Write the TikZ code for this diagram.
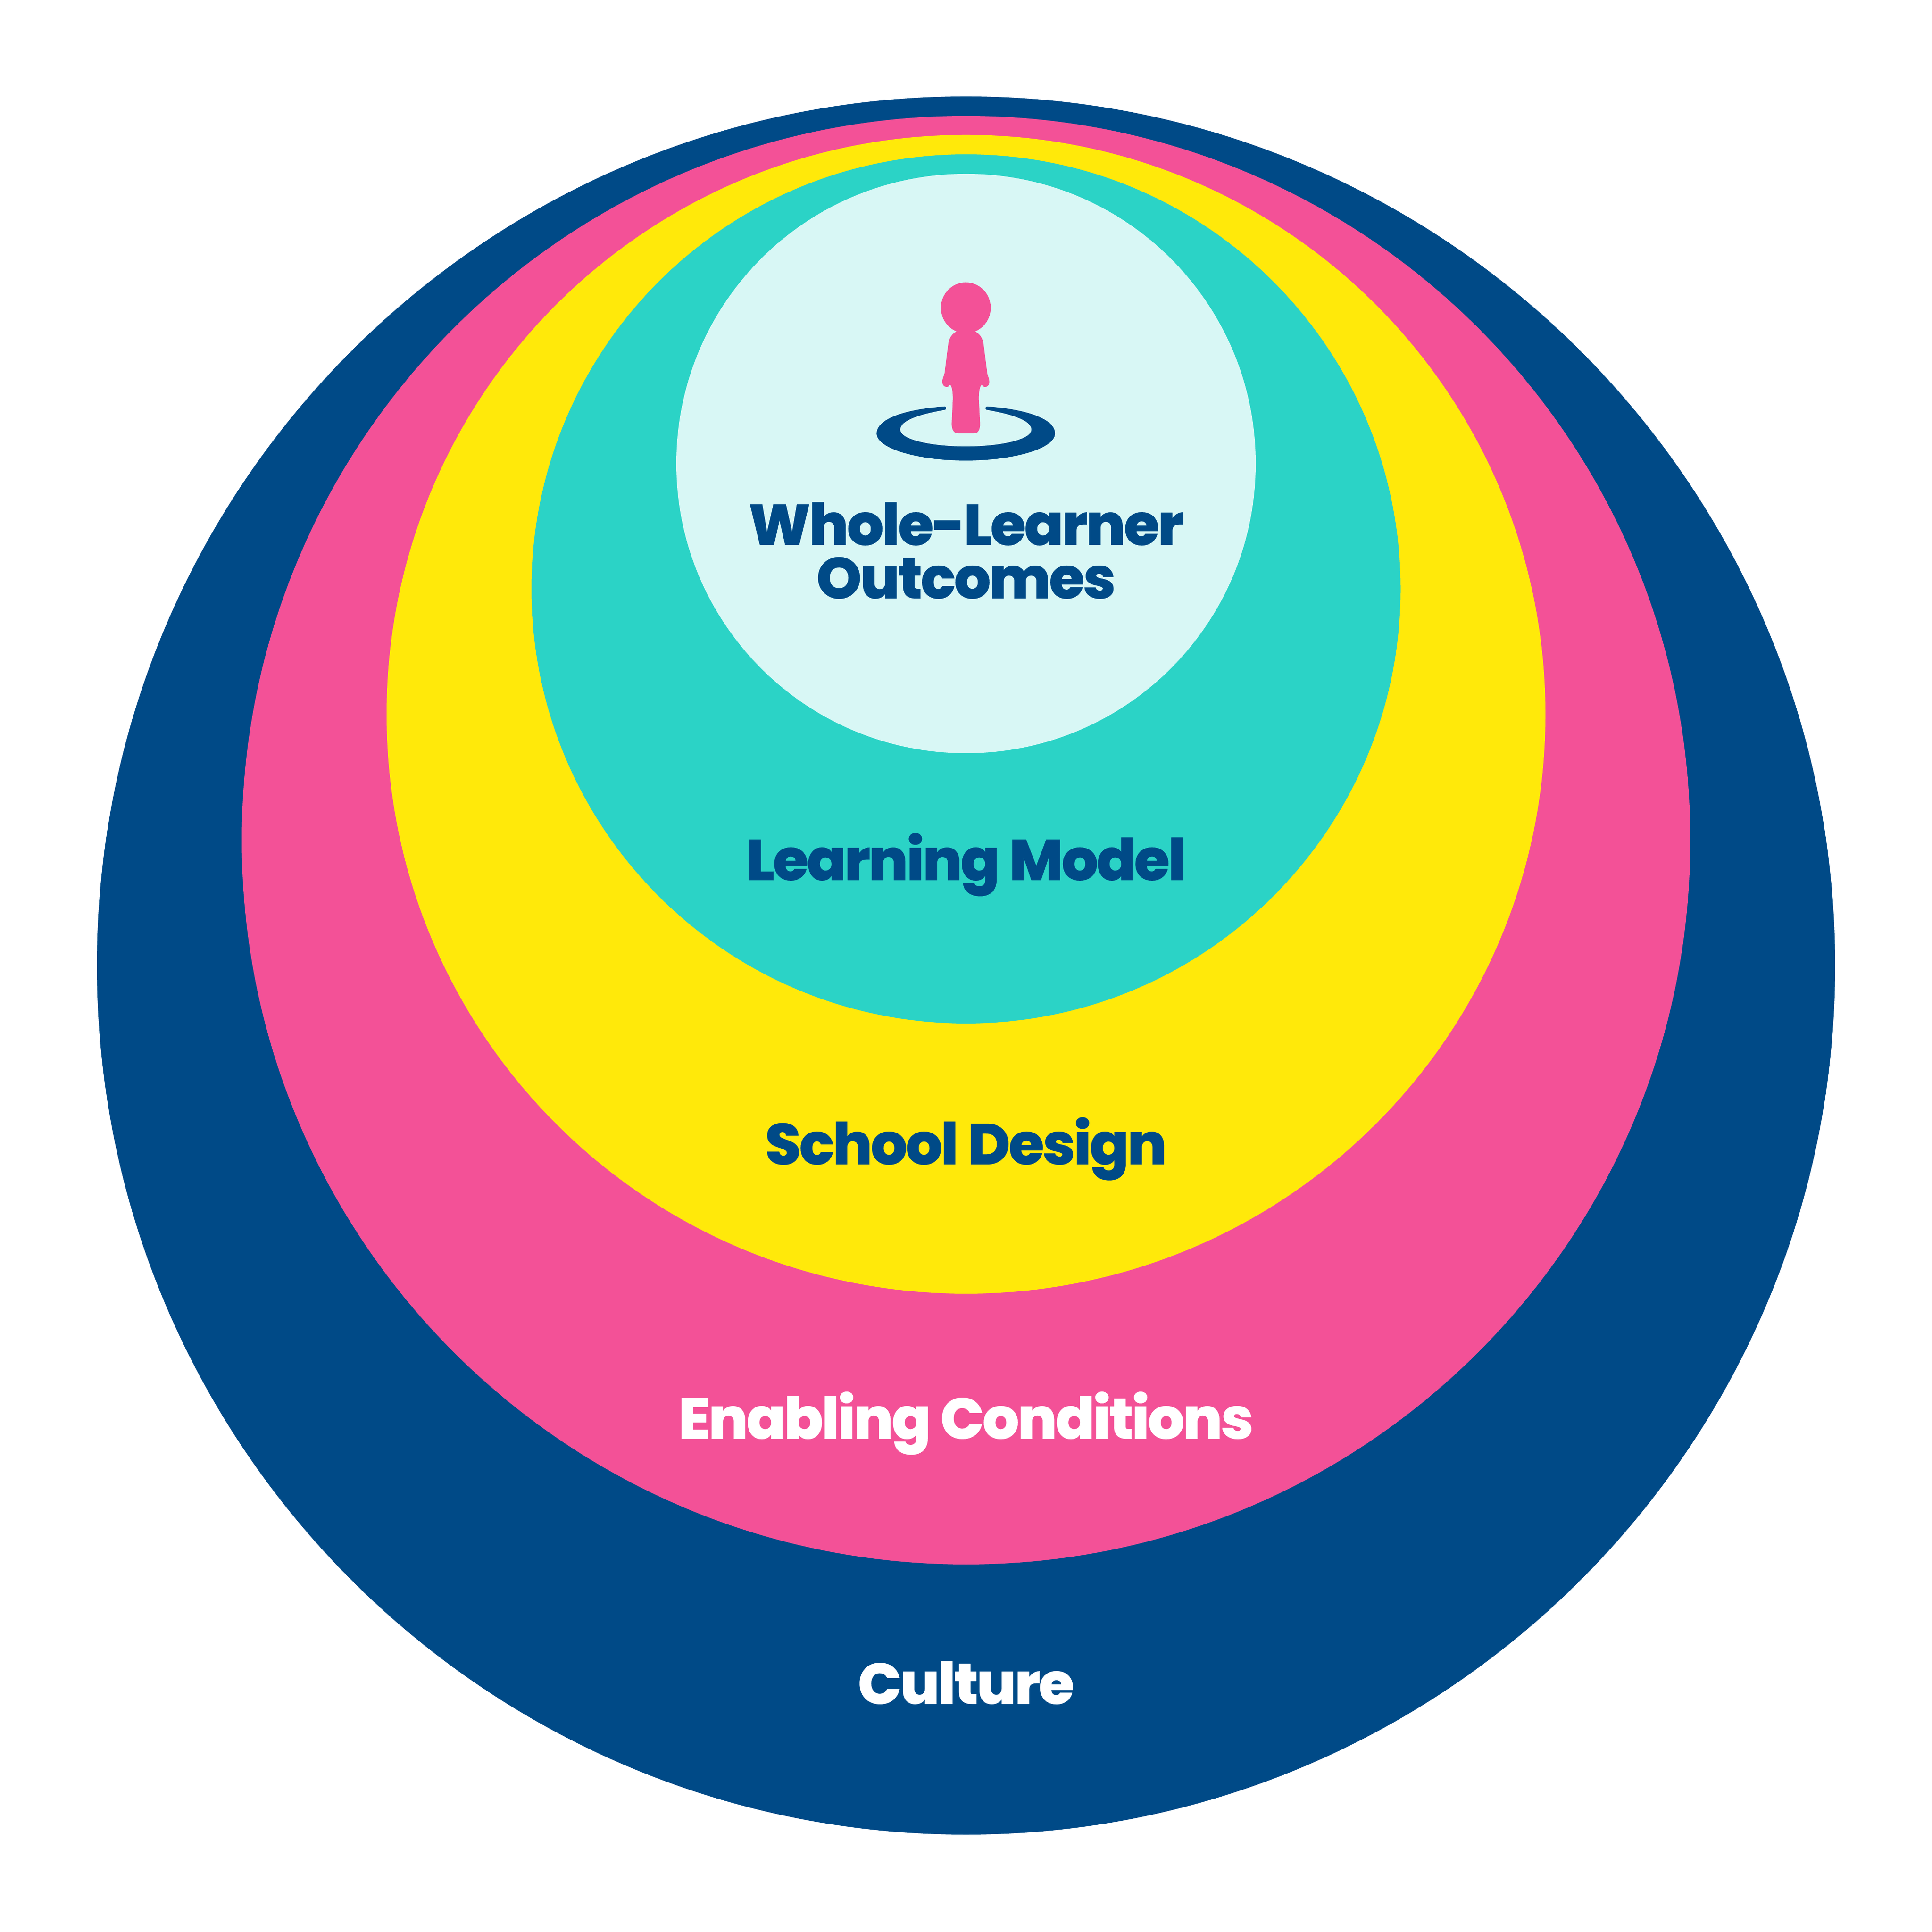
\documentclass[tikz,border=0pt]{standalone}
\usepackage{fontspec}
\setmainfont{Poppins ExtraBold}[LetterSpace=-3.0,FakeBold=0.2]
\definecolor{navyblue}{HTML}{004A87}
\definecolor{hotpink}{HTML}{F35197}
\definecolor{brightyellow}{HTML}{FFE90A}
\definecolor{tealgreen}{HTML}{2BD3C6}
\definecolor{paleteal}{HTML}{D8F7F5}
\tikzset{
  layerlabel/.style={anchor=base, font=\fontsize{35.5}{43}\selectfont, align=center, inner sep=0pt},
}
\begin{document}
\begin{tikzpicture}
  \useasboundingbox (0,0) rectangle (41.68,41.67);
  \fill[white] (0,0) rectangle (41.68,41.67);
  % nested circles, all in units of 100 px
  \fill[navyblue] (20.84,20.84) circle (18.75);
  \fill[hotpink] (20.84,23.545) circle (15.625);
  \fill[brightyellow] (20.84,26.26) circle (12.5);
  \fill[tealgreen] (20.84,28.965) circle (9.375);
  \fill[paleteal] (20.84,31.67) circle (6.25);

  \node[layerlabel, text=navyblue] (outcomes) at (20.84,28.76) {Outcomes};
  \node[layerlabel, text=navyblue] (whole) at (20.84,29.91) {Whole-Learner};
  \node[layerlabel, text=navyblue] (model) at (20.84,22.68) {Learning Model};
  \node[layerlabel, text=navyblue] (design) at (20.84,16.55) {School Design};
  \node[layerlabel, text=white] (conditions) at (20.84,10.63) {Enabling Conditions};
  \node[layerlabel, text=white] (culture) at (20.84,4.91) {Culture};

  % person on a ring
  \begin{scope}[shift={(18,36.07)}, x=0.003636cm, y=-0.003333cm]
    \fill[hotpink] (781,313) ellipse (148 and 165);
    \fill[hotpink] (735,463) .. controls (700,475) and (680,510) .. (676,555) -- (655,735)
      .. controls (650,760) and (641,770) .. (641,795) .. controls (641,815) and (655,827) .. (668,827)
      .. controls (678,827) and (683,815) .. (688,812) .. controls (700,825) and (703,860) .. (704,900)
      -- (697,1065) .. controls (697,1105) and (712,1128) .. (735,1128) -- (830,1128)
      .. controls (852,1128) and (866,1105) .. (866,1065) -- (858,900)
      .. controls (859,860) and (862,825) .. (875,812) .. controls (880,815) and (885,827) .. (895,827)
      .. controls (908,827) and (921,815) .. (921,795) .. controls (921,770) and (912,760) .. (908,735)
      -- (887,555) .. controls (883,510) and (862,475) .. (827,463) -- cycle;
    \fill[navyblue] (655,953) .. controls (430,970) and (251,1030) .. (251,1128)
      .. controls (251,1230) and (510,1304) .. (781,1304) .. controls (1052,1304) and (1311,1230) .. (1311,1128)
      .. controls (1311,1030) and (1132,970) .. (907,953) .. controls (897,953) and (893,970) .. (905,975)
      .. controls (1040,1000) and (1171,1040) .. (1171,1103) .. controls (1171,1170) and (980,1212) .. (781,1212)
      .. controls (582,1212) and (391,1170) .. (391,1103) .. controls (391,1040) and (522,1000) .. (657,975)
      .. controls (669,970) and (665,953) .. (655,953) -- cycle;
  \end{scope}
\end{tikzpicture}
\end{document}
